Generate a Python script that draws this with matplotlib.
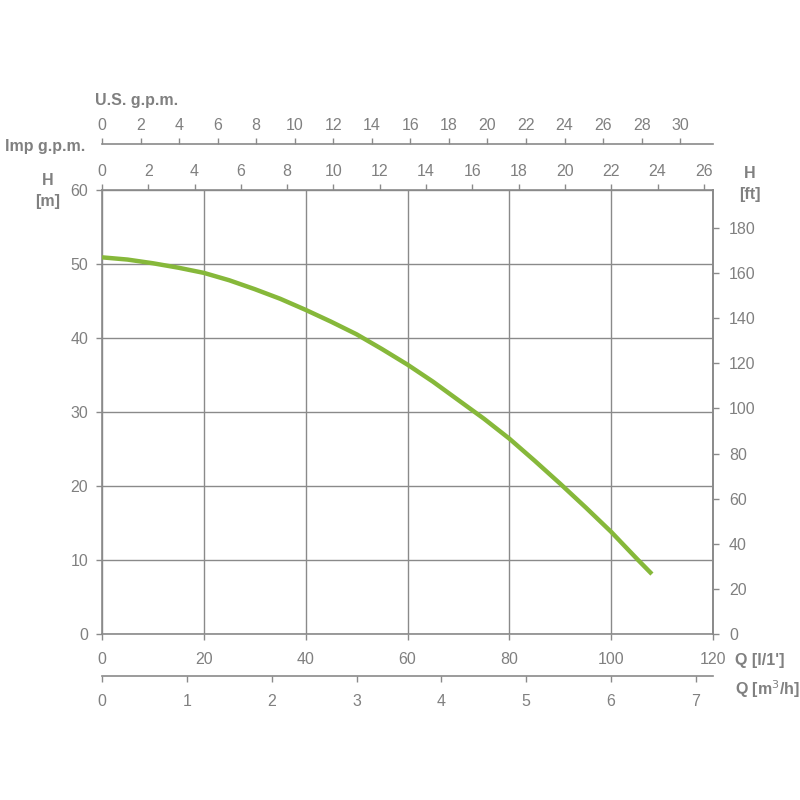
import matplotlib.pyplot as plt

# pump curve: flow in l/min, head in m
q_lmin = [0, 5, 10, 15, 20, 25, 30, 35, 40, 45, 50, 55, 60,
          65, 70, 75, 80, 85, 90, 95, 100, 105, 108]
h_m = [50.9, 50.6, 50.1, 49.5, 48.8, 47.8, 46.6, 45.3, 43.8, 42.2, 40.5, 38.5, 36.4,
       34.1, 31.6, 29.1, 26.4, 23.4, 20.3, 17.1, 13.8, 10.2, 8.1]

x_ticks = [0, 20, 40, 60, 80, 100, 120]
y_ticks = [0, 10, 20, 30, 40, 50, 60]
ft_ticks = [0, 20, 40, 60, 80, 100, 120, 140, 160, 180]
us_ticks = list(range(0, 31, 2))
imp_ticks = list(range(0, 27, 2))
m3h_ticks = [0, 1, 2, 3, 4, 5, 6, 7]

grey = '#8a8a8a'
txt = '#808080'
green = '#86b83a'

plt.rcParams['font.family'] = ['Liberation Sans', 'DejaVu Sans']
plt.rcParams['font.size'] = 11.5

fig = plt.figure(figsize=(8, 8), dpi=100)
ax = fig.add_axes([102/800, 166/800, 611/800, 444/800])

ax.plot(q_lmin, h_m, color=green, lw=3.2, solid_capstyle='butt',
        solid_joinstyle='round', zorder=3)
ax.set_xlim(0, 120)
ax.set_ylim(0, 60)
ax.set_xticks(x_ticks)
ax.set_yticks(y_ticks)
ax.grid(True, color=grey, lw=1)
for s in ax.spines.values():
    s.set_color(grey)
    s.set_linewidth(1.2)
ax.tick_params(colors=grey, labelcolor=txt, length=4, width=1)
ax.tick_params(axis='x', pad=9)
ax.tick_params(axis='y', pad=6)

# unit conversions
M_TO_FT = 3.28084
US = 3.78541
IMP = 4.54609

ax_ft = ax.secondary_yaxis('right', functions=(lambda h: h * M_TO_FT, lambda f: f / M_TO_FT))
ax_ft.set_yticks(ft_ticks)
ax_ft.spines['right'].set_color(grey)
ax_ft.spines['right'].set_linewidth(1.2)
ax_ft.tick_params(colors=grey, labelcolor=txt, length=4, width=1, pad=7.5)

ax_imp = ax.secondary_xaxis('top', functions=(lambda q: q / IMP, lambda g: g * IMP))
ax_imp.set_xticks(imp_ticks)
ax_imp.spines['top'].set_visible(False)
ax_imp.tick_params(colors=grey, labelcolor=txt, length=4, width=1, pad=4)

ax_us = ax.secondary_xaxis(1 + 46/444, functions=(lambda q: q / US, lambda g: g * US))
ax_us.set_xticks(us_ticks)
ax_us.spines['top'].set_color(grey)
ax_us.spines['top'].set_linewidth(1.2)
ax_us.tick_params(colors=grey, labelcolor=txt, length=4, width=1, pad=4)

ax_m3 = ax.secondary_xaxis(-42/444, functions=(lambda q: q * 0.06, lambda m: m / 0.06))
ax_m3.set_xticks(m3h_ticks)
ax_m3.spines['bottom'].set_color(grey)
ax_m3.spines['bottom'].set_linewidth(1.2)
ax_m3.tick_params(colors=grey, labelcolor=txt, length=4, width=1, pad=9)

bold = dict(color=txt, fontweight='bold', fontsize=11.5)
fig.text(95/800, 1 - 101/800, 'U.S. g.p.m.', ha='left', va='center', **bold)
fig.text(85/800, 1 - 146/800, 'Imp g.p.m.', ha='right', va='center', **bold)
fig.text(48/800, 1 - 191/800, 'H\n[m]', ha='center', va='center', linespacing=1.5, **bold)
fig.text(750/800, 1 - 184/800, 'H\n[ft]', ha='center', va='center', linespacing=1.5, **bold)
fig.text(735/800, 1 - 660/800, "Q [l/1']", ha='left', va='center', **bold)
fig.text(735/800, 1 - 689/800, 'Q [m$^3$/h]', ha='left', va='center', **bold)

fig.savefig('out.png', dpi=100)
